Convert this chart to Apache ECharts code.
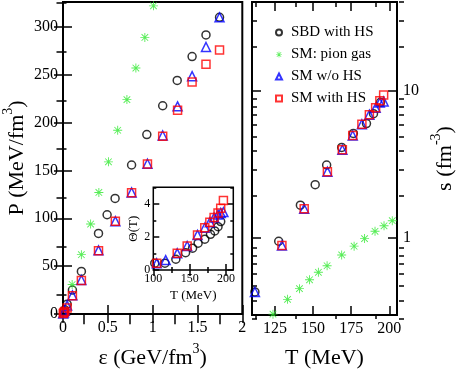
<!DOCTYPE html>
<html>
<head>
<meta charset="utf-8">
<script src="https://cdn.jsdelivr.net/npm/echarts@6/dist/echarts.min.js"></script>
<style>
  html, body { margin: 0; padding: 0; background: #fff; }
  #chart { width: 457px; height: 374px; }
</style>
</head>
<body>
<div id="chart"></div>
<script>
// ---- left panel: P vs energy density ----
const sbdEps = [0.02, 0.046, 0.105, 0.205, 0.396, 0.492, 0.581, 0.765, 0.935, 1.112, 1.274, 1.44, 1.595, 1.746];
const sbdP = [4.4, 10.3, 25, 44.5, 84.2, 103.7, 120.7, 155.7, 187.5, 217.6, 244, 269, 291.6, 310];
const pionEps = [0.102, 0.205, 0.308, 0.40, 0.507, 0.61, 0.713, 0.813, 0.913, 1.009];
const pionP = [30.8, 62, 94, 127, 159, 192, 224, 257, 289, 322];
const smEps = [0.003, 0.01, 0.02, 0.046, 0.105, 0.205, 0.396, 0.584, 0.765, 0.942, 1.112, 1.278, 1.44, 1.595, 1.746];
const smWoP = [0.5, 1.5, 3.5, 8.8, 19.5, 35.5, 66.5, 97, 127, 157, 186.5, 217, 248.5, 279, 310];
const smHsP = [0.5, 1.5, 2.7, 6.2, 19, 35, 66, 96.8, 126.6, 156.7, 185.8, 213, 242.3, 261, 275.8];

// ---- right panel: entropy density vs T ----
const sbdT = [111.9, 127.5, 141.7, 151.4, 158.9, 168.75, 176.4, 185, 189.6, 194.2];
const sbdS = [0.43, 0.95, 1.67, 2.30, 3.13, 4.12, 5.13, 5.98, 6.98, 8.34];
const pionT = [123.75, 133.3, 141.1, 147.7, 153.5, 159.2, 168.75, 176.9, 183.75, 190.6, 196.5, 201.9];
const pionS = [0.304, 0.383, 0.453, 0.52, 0.585, 0.648, 0.767, 0.88, 0.99, 1.11, 1.21, 1.31];
const smWoT = [111.9, 129.6, 144.2, 159.4, 169.2, 176, 182, 186.9, 191, 193.75, 196.25];
const smWoS = [0.43, 0.89, 1.58, 2.82, 3.97, 4.96, 5.92, 6.87, 7.65, 8.3, 8.45];
const smHsT = [129.6, 144.2, 159.4, 169.2, 176, 182, 186.9, 191, 193.75, 196.25];
const smHsS = [0.89, 1.58, 2.82, 3.97, 4.96, 5.92, 6.87, 7.65, 8.55, 9.33];

// ---- inset: Theta(T) ----
const inSbdT = [102, 116, 131, 144.4, 154, 161.6, 170.8, 178.6, 184.5, 189, 192.7];
const inSbdTh = [0.41, 0.41, 0.65, 1.05, 1.32, 1.62, 1.86, 2.16, 2.36, 2.62, 2.93];
const inWoT = [104.7, 117, 132.9, 146.6, 160.8, 170.8, 177.7, 183.6, 189, 192.7, 196.4];
const inWoTh = [0.41, 0.6, 1.01, 1.45, 2.12, 2.56, 2.89, 3.17, 3.35, 3.45, 3.5];
const inHsT = [104.7, 132.9, 146.6, 160.8, 170.8, 177.7, 183.6, 189, 192.7, 196.4];
const inHsTh = [0.41, 1.01, 1.45, 2.12, 2.56, 2.89, 3.17, 3.44, 3.74, 4.2];

// ---- ticks ----
const epsTicks = [0, 0.5, 1, 1.5, 2];
const epsMinor = [0.25, 0.75, 1.25, 1.75];
const pTicks = [0, 50, 100, 150, 200, 250, 300];
const pMinor = [25, 75, 125, 175, 225, 275, 325];
const tTicks = [125, 150, 175, 200];
const tMinor = [112.5, 137.5, 162.5, 187.5];
const sTicks = [1, 10];
const sMinor = [0.3, 0.4, 0.5, 0.6, 0.7, 0.8, 0.9, 2, 3, 4, 5, 6, 7, 8, 9, 20, 30, 40];
const inTTicks = [100, 150, 200];
const inTMinor = [125, 175];
const thTicks = [0, 2, 4];
const thMinor = [1, 3, 5];

const names = ['SBD with HS', 'SM: pion gas', 'SM w/o HS', 'SM with HS'];
const F = 'Liberation Serif';
const star = 'path://M-1,-10L1,-10L1,10L-1,10Z M-10,-1L10,-1L10,1L-10,1Z M-8,-6.6L-6.6,-8L8,6.6L6.6,8Z M6.6,-8L8,-6.6L-6.6,8L-8,6.6Z';

const rich = (big, small) => ({
  t: { fontFamily: F, fontSize: big, lineHeight: big + 5, verticalAlign: 'bottom', color: '#000' },
  u: { fontFamily: F, fontSize: small, lineHeight: big + 5, verticalAlign: 'top', color: '#000' }
});

function axis(o) {
  return {
    type: o.log ? 'log' : 'value',
    gridIndex: o.grid,
    position: o.pos,
    min: o.min,
    max: o.max,
    name: o.name || '',
    nameLocation: 'middle',
    nameGap: o.gap || 0,
    nameTextStyle: o.nameStyle || {},
    axisLine: { show: false },
    splitLine: { show: false },
    axisTick: { show: true, inside: true, length: o.len, customValues: o.ticks, lineStyle: { color: '#000', width: 1.5 } },
    axisLabel: o.labels
      ? { show: true, customValues: o.labels, fontFamily: F, fontSize: o.fs || 16, color: '#000', margin: o.margin || 6 }
      : { show: false },
    silent: true
  };
}

function pts(xs, ys) {
  return xs.map((x, i) => [x, ys[i]]);
}

function scatter(k, xi, yi, xs, ys) {
  const look = [
    { symbol: 'circle', symbolSize: 8, itemStyle: { color: 'transparent', borderColor: '#000', borderWidth: 1.5 } },
    { symbol: star, symbolSize: 9, itemStyle: { color: '#2ee82e' } },
    { symbol: 'triangle', symbolSize: 9, itemStyle: { color: 'transparent', borderColor: '#0000ff', borderWidth: 1.5 } },
    { symbol: 'rect', symbolSize: 8, itemStyle: { color: 'transparent', borderColor: '#ff0000', borderWidth: 1.5 } }
  ][k];
  return Object.assign({
    name: names[k], type: 'scatter', xAxisIndex: xi, yAxisIndex: yi,
    data: pts(xs, ys), silent: true
  }, look);
}

const L = { left: 61.5, top: 2, width: 180.8, height: 317.3 };
const R = { left: 252, top: 2, width: 152, height: 317 };
const I = { left: 153.3, top: 187.3, width: 80, height: 82.7 };

const chart = echarts.init(document.getElementById('chart'));
chart.setOption({
  animation: false,
  legend: {
    orient: 'vertical', left: 270, top: 20, itemWidth: 6, itemHeight: 6, itemGap: 7,
    selectedMode: false,
    textStyle: { fontFamily: F, fontSize: 15, color: '#000', lineHeight: 15, padding: [0, 0, 0, 4] },
    data: names
  },
  grid: [
    Object.assign({ show: true, borderColor: '#000', borderWidth: 2 }, L),
    Object.assign({ show: true, borderColor: '#000', borderWidth: 2 }, R),
    Object.assign({ show: true, borderColor: '#000', borderWidth: 1.5, backgroundColor: '#fff' }, I),
    Object.assign({}, L),
    Object.assign({}, R),
    Object.assign({}, I)
  ],
  xAxis: [
    axis({ grid: 0, pos: 'bottom', min: 0, max: 2, len: 9, ticks: epsTicks, labels: epsTicks,
      name: '{t|ε (GeV/fm}{u|3}{t|)}', gap: 28, nameStyle: { rich: rich(22, 14) } }),
    axis({ grid: 0, pos: 'top', min: 0, max: 2, len: 9, ticks: epsTicks }),
    axis({ grid: 1, pos: 'bottom', min: 110, max: 205, len: 9, ticks: tTicks, labels: tTicks,
      name: 'T (MeV)', gap: 32, nameStyle: { fontFamily: F, fontSize: 22, color: '#000' } }),
    axis({ grid: 1, pos: 'top', min: 110, max: 205, len: 9, ticks: tTicks }),
    axis({ grid: 2, pos: 'bottom', min: 100, max: 210, len: 6, ticks: inTTicks, labels: inTTicks, fs: 12, margin: 3,
      name: 'T (MeV)', gap: 19, nameStyle: { fontFamily: F, fontSize: 13, color: '#000' } }),
    axis({ grid: 2, pos: 'top', min: 100, max: 210, len: 6, ticks: inTTicks }),
    axis({ grid: 3, pos: 'bottom', min: 0, max: 2, len: 5, ticks: epsMinor }),
    axis({ grid: 3, pos: 'top', min: 0, max: 2, len: 5, ticks: epsMinor }),
    axis({ grid: 4, pos: 'bottom', min: 110, max: 205, len: 5, ticks: tMinor }),
    axis({ grid: 4, pos: 'top', min: 110, max: 205, len: 5, ticks: tMinor }),
    axis({ grid: 5, pos: 'bottom', min: 100, max: 210, len: 3, ticks: inTMinor }),
    axis({ grid: 5, pos: 'top', min: 100, max: 210, len: 3, ticks: inTMinor })
  ],
  yAxis: [
    axis({ grid: 0, pos: 'left', min: 0, max: 326, len: 9, ticks: pTicks, labels: pTicks, margin: 5,
      name: '{t|P (MeV/fm}{u|3}{t|)}', gap: 35, nameStyle: { rich: rich(22, 14) } }),
    axis({ grid: 0, pos: 'right', min: 0, max: 326, len: 9, ticks: pTicks }),
    axis({ grid: 1, pos: 'right', log: true, min: 0.3, max: 40, len: 9, ticks: sTicks, labels: sTicks,
      name: '{t|s (fm}{u|-3}{t|)}', gap: 32, nameStyle: { rich: rich(22, 14) } }),
    axis({ grid: 1, pos: 'left', log: true, min: 0.3, max: 40, len: 9, ticks: sTicks }),
    axis({ grid: 2, pos: 'left', min: 0, max: 5, len: 6, ticks: thTicks, labels: thTicks, fs: 12, margin: 3,
      name: 'Θ(T)', gap: 10, nameStyle: { fontFamily: F, fontSize: 13, color: '#000' } }),
    axis({ grid: 2, pos: 'right', min: 0, max: 5, len: 6, ticks: thTicks }),
    axis({ grid: 3, pos: 'left', min: 0, max: 326, len: 5, ticks: pMinor }),
    axis({ grid: 3, pos: 'right', min: 0, max: 326, len: 5, ticks: pMinor }),
    axis({ grid: 4, pos: 'right', log: true, min: 0.3, max: 40, len: 5, ticks: sMinor }),
    axis({ grid: 4, pos: 'left', log: true, min: 0.3, max: 40, len: 5, ticks: sMinor }),
    axis({ grid: 5, pos: 'left', min: 0, max: 5, len: 3, ticks: thMinor }),
    axis({ grid: 5, pos: 'right', min: 0, max: 5, len: 3, ticks: thMinor })
  ],
  series: [
    scatter(0, 0, 0, sbdEps, sbdP),
    scatter(1, 0, 0, pionEps, pionP),
    scatter(2, 0, 0, smEps, smWoP),
    scatter(3, 0, 0, smEps, smHsP),
    scatter(0, 2, 2, sbdT, sbdS),
    scatter(1, 2, 2, pionT, pionS),
    scatter(2, 2, 2, smWoT, smWoS),
    scatter(3, 2, 2, smHsT, smHsS),
    scatter(0, 4, 4, inSbdT, inSbdTh),
    scatter(2, 4, 4, inWoT, inWoTh),
    scatter(3, 4, 4, inHsT, inHsTh)
  ]
});
</script>
</body>
</html>
